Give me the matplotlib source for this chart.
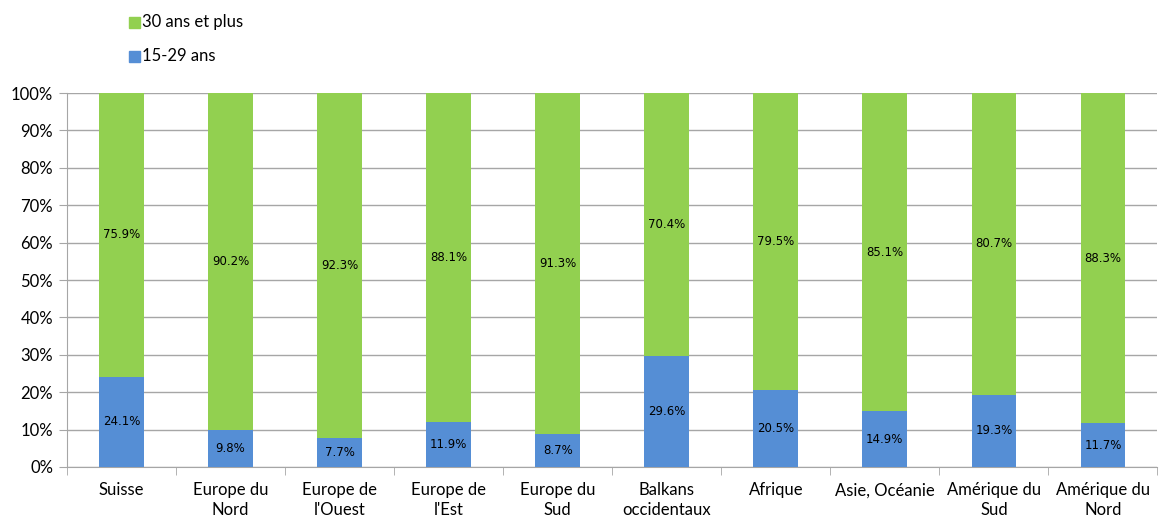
import matplotlib
matplotlib.use('Agg')
import matplotlib.pyplot as plt
import numpy as np

categories = ['Suisse', 'Europe du\nNord', "Europe de\nl'Ouest", "Europe de\nl'Est", 'Europe du\nSud',
              'Balkans\noccidentaux', 'Afrique', 'Asie, Océanie', 'Amérique du\nSud', 'Amérique du\nNord']
jeunes = [24.1, 9.8, 7.7, 11.9, 8.7, 29.6, 20.5, 14.9, 19.3, 11.7]
adultes = [75.9, 90.2, 92.3, 88.1, 91.3, 70.4, 79.5, 85.1, 80.7, 88.3]

blue = '#558ED5'
green = '#92D050'
grid_col = '#A6A6A6'

plt.rcParams['font.family'] = ['Lato', 'DejaVu Sans']

fig = plt.figure(figsize=(11.6, 5.2), dpi=100)
ax = fig.add_axes([0.0578, 0.102, 0.940, 0.719])

x = np.arange(len(categories))
w = 0.41
ax.bar(x, jeunes, w, color=blue, zorder=3)
ax.bar(x, adultes, w, bottom=jeunes, color=green, zorder=3)

for i in range(len(x)):
    ax.text(x[i], jeunes[i] / 2, '%.1f%%' % jeunes[i], ha='center', va='center',
            fontsize=8.5, family='DejaVu Sans', zorder=4)
    ax.text(x[i], jeunes[i] + adultes[i] / 2, '%.1f%%' % adultes[i], ha='center', va='center',
            fontsize=8.5, family='DejaVu Sans', zorder=4)

ax.set_xlim(-0.5, len(x) - 0.5)
ax.set_ylim(0, 100)
ax.set_yticks(np.arange(0, 101, 10))
ax.set_yticklabels(['%d%%' % v for v in range(0, 101, 10)], fontsize=12)
ax.yaxis.grid(True, color=grid_col, linewidth=1, zorder=0)

ax.set_xticks(x)
ax.set_xticklabels(categories, fontsize=12, linespacing=1.3)
ax.tick_params(axis='x', length=0, pad=11)
ax.set_xticks(np.arange(-0.5, len(x), 1), minor=True)
ax.tick_params(axis='x', which='minor', length=6, color=grid_col)
ax.tick_params(axis='y', length=6, color=grid_col, pad=4)

for s in ['top', 'right']:
    ax.spines[s].set_visible(False)
ax.spines['left'].set_color(grid_col)
ax.spines['bottom'].set_color(grid_col)

# legend
fig.patches.append(plt.Rectangle((129 / 1160, 1 - 28 / 520), 11 / 1160, 11 / 520,
                                 transform=fig.transFigure, color=green))
fig.patches.append(plt.Rectangle((129 / 1160, 1 - 62 / 520), 11 / 1160, 11 / 520,
                                 transform=fig.transFigure, color=blue))
fig.text(142 / 1160, 1 - 22 / 520, '30 ans et plus', fontsize=12, va='center')
fig.text(142 / 1160, 1 - 56 / 520, '15-29 ans', fontsize=12, va='center')

fig.savefig('out.png', dpi=100)
